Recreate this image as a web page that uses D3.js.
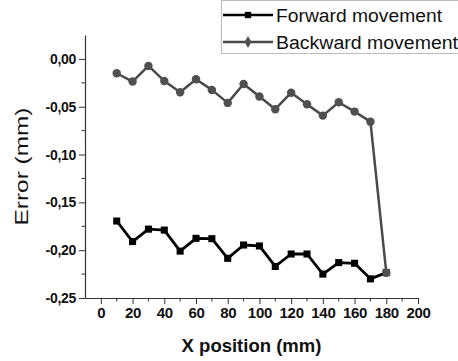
<!DOCTYPE html>
<html>
<head>
<meta charset="utf-8">
<script src="https://cdn.jsdelivr.net/npm/d3@7"></script>
<style>
  html, body { margin: 0; padding: 0; background: #fff; }
  svg { display: block; }
  text { font-family: "Liberation Sans", Arial, sans-serif; }
</style>
</head>
<body>
<svg id="chart" width="458" height="361"></svg>
<script>
// Measurement positions along X (mm)
const positions = [10, 20, 30, 40, 50, 60, 70, 80, 90, 100, 110, 120, 130, 140, 150, 160, 170, 180];

// Positioning error (mm) for each direction of travel
const forwardError = [-0.1695, -0.191, -0.178, -0.179, -0.201, -0.1876, -0.188, -0.2085, -0.1946,
  -0.1956, -0.217, -0.204, -0.204, -0.225, -0.213, -0.2137, -0.230, -0.2235];
const backwardError = [-0.015, -0.0237, -0.0073, -0.023, -0.0348, -0.0212, -0.0324, -0.046, -0.0262,
  -0.0394, -0.0526, -0.0353, -0.0474, -0.0593, -0.0453, -0.0551, -0.0656, -0.2235];

const seriesNames = ["Forward movement", "Backward movement"];
const xTickValues = [0, 20, 40, 60, 80, 100, 120, 140, 160, 180, 200];
const yTickValues = [0, -0.05, -0.10, -0.15, -0.20, -0.25];

const svg = d3.select("#chart");

const x = d3.scaleLinear().domain([-10, 200]).range([85, 418]);
const y = d3.scaleLinear().domain([-0.25, 0.025]).range([298, 35]);

const commaFmt = d => d3.format(".2f")(d).replace(".", ",").replace("−", "-");

// Minor ticks
const xMinor = d3.range(10, 200, 20);
const yMinor = d3.range(-0.225, 0.001, 0.05);

const axisColor = "#333";

// X axis
const gx = svg.append("g").attr("transform", `translate(0,${y(-0.25)})`)
  .call(d3.axisBottom(x).tickValues(xTickValues).tickSize(6).tickSizeOuter(0).tickFormat(d3.format("d")));
gx.select(".domain").attr("stroke", axisColor).attr("stroke-width", 1.2);
gx.selectAll(".tick line").attr("stroke", axisColor);
gx.selectAll(".tick text")
  .attr("font-family", "Liberation Sans, Arial, sans-serif")
  .attr("font-size", 15).attr("font-weight", "bold").attr("fill", "#111")
  .attr("letter-spacing", -0.3)
  .attr("dy", "0.85em").attr("y", 7);
gx.selectAll(".minor").data(xMinor).enter().append("line")
  .attr("x1", d => x(d)).attr("x2", d => x(d)).attr("y1", 0).attr("y2", 3.5)
  .attr("stroke", axisColor);

// Y axis
const gy = svg.append("g").attr("transform", `translate(${x(-10)},0)`)
  .call(d3.axisLeft(y).tickValues(yTickValues).tickSize(6).tickSizeOuter(0).tickFormat(commaFmt));
gy.select(".domain").attr("stroke", axisColor).attr("stroke-width", 1.2);
gy.selectAll(".tick line").attr("stroke", axisColor);
gy.selectAll(".tick text")
  .attr("font-family", "Liberation Sans, Arial, sans-serif")
  .attr("font-size", 14).attr("font-weight", "bold").attr("fill", "#111")
  .attr("letter-spacing", -0.3)
  .attr("x", -9);
gy.selectAll(".minor").data(yMinor).enter().append("line")
  .attr("x1", 0).attr("x2", -3.5).attr("y1", d => y(d)).attr("y2", d => y(d))
  .attr("stroke", axisColor);

// Axis titles
svg.append("text")
  .attr("x", (x(-10) + x(200)) / 2).attr("y", 352)
  .attr("text-anchor", "middle")
  .attr("font-size", 18.5).attr("font-weight", "bold").attr("fill", "#111")
  .text("X position (mm)");

svg.append("text")
  .attr("transform", `translate(28,${(y(-0.25) + y(0.025)) / 2}) rotate(-90)`)
  .attr("text-anchor", "middle")
  .attr("font-size", 18).attr("fill", "#111")
  .attr("textLength", 118).attr("lengthAdjust", "spacingAndGlyphs")
  .text("Error (mm)");

// Series
const fwd = positions.map((p, i) => [p, forwardError[i]]);
const bwd = positions.map((p, i) => [p, backwardError[i]]);
const line = d3.line().x(d => x(d[0])).y(d => y(d[1]));

svg.append("path").datum(fwd).attr("d", line)
  .attr("fill", "none").attr("stroke", "#000").attr("stroke-width", 2.8).attr("stroke-linejoin", "round");
svg.append("g").selectAll("path").data(fwd).enter().append("path")
  .attr("d", d3.symbol(d3.symbolSquare, 50))
  .attr("transform", d => `translate(${x(d[0])},${y(d[1])})`)
  .attr("fill", "#000");

svg.append("path").datum(bwd).attr("d", line)
  .attr("fill", "none").attr("stroke", "#4a4a4a").attr("stroke-width", 2.5).attr("stroke-linejoin", "round");
svg.append("g").selectAll("path").data(bwd).enter().append("path")
  .attr("d", d3.symbol(d3.symbolCircle, 56))
  .attr("transform", d => `translate(${x(d[0])},${y(d[1])})`)
  .attr("fill", "#505050");

// Legend
const legend = svg.append("g");
legend.append("rect")
  .attr("x", 221.5).attr("y", 0.5).attr("width", 260).attr("height", 53)
  .attr("fill", "#fff").attr("stroke", "#555").attr("stroke-width", 0.8)
  .attr("stroke-dasharray", "1,1");
const legendRows = [
  { name: seriesNames[0], color: "#000", sym: d3.symbolSquare, size: 40, fill: "#000", cy: 15, len: 166 },
  { name: seriesNames[1], color: "#4a4a4a", sym: d3.symbolDiamond, size: 40, fill: "#505050", cy: 42, len: 182 }
];
legendRows.forEach(r => {
  legend.append("line").attr("x1", 223).attr("x2", 273).attr("y1", r.cy).attr("y2", r.cy)
    .attr("stroke", r.color).attr("stroke-width", 2.5);
  legend.append("path").attr("d", d3.symbol(r.sym, r.size))
    .attr("transform", `translate(248,${r.cy})`).attr("fill", r.fill);
  legend.append("text").attr("x", 276).attr("y", r.cy + 6.5)
    .attr("font-size", 18).attr("fill", "#111")
    .attr("textLength", r.len).attr("lengthAdjust", "spacingAndGlyphs")
    .text(r.name);
});
</script>
</body>
</html>
